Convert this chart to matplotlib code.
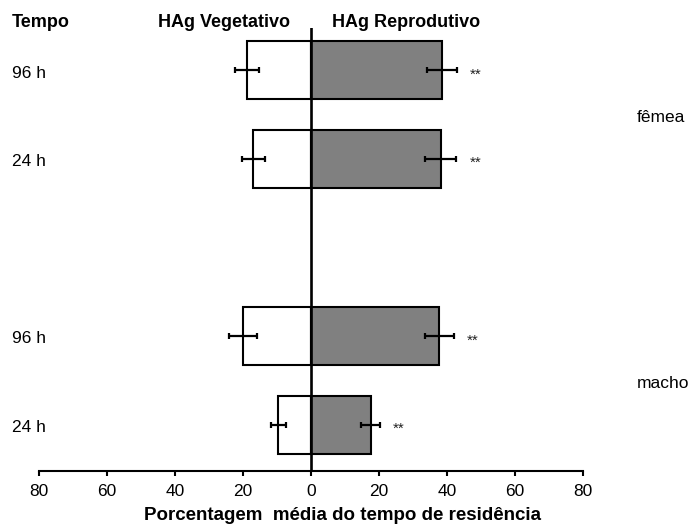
#!/usr/bin/env python3

import matplotlib
matplotlib.use("Agg")
import matplotlib.pyplot as plt
import matplotlib.transforms as mtransforms
import numpy as np

plt.rcParams["font.family"] = ["Liberation Sans", "DejaVu Sans"]

# Bars from bottom to top: macho 24 h, macho 96 h, fêmea 24 h, fêmea 96 h
tempo = ["24 h", "96 h", "24 h", "96 h"]
sexo = ["macho", "macho", "fêmea", "fêmea"]
posicao = [0, 1, 3, 4]

vegetativo = [9.6, 20.1, 17.0, 18.7]
vegetativo_err = [2.3, 4.1, 3.4, 3.5]
reprodutivo = [17.5, 37.7, 38.1, 38.4]
reprodutivo_err = [2.8, 4.2, 4.6, 4.4]
signif = ["**", "**", "**", "**"]

xticks = [-80, -60, -40, -20, 0, 20, 40, 60, 80]

fig = plt.figure(figsize=(6.95, 5.27), dpi=100)
ax = fig.add_axes([0.0557, 0.1068, 0.7836, 0.8401])

y = np.array(posicao, dtype=float)
veg = -np.array(vegetativo)
rep = np.array(reprodutivo)

ax.barh(y, veg, height=0.655, color="white", edgecolor="black", linewidth=1.5, zorder=2)
ax.barh(y, rep, height=0.655, color="#808080", edgecolor="black", linewidth=1.5, zorder=2)

err_kw = dict(fmt="none", ecolor="black", elinewidth=1.6, capsize=2.3, capthick=1.6, zorder=3)
ax.errorbar(veg, y, xerr=vegetativo_err, **err_kw)
ax.errorbar(rep, y, xerr=reprodutivo_err, **err_kw)

# significance marks just right of the reproductive error bars
star = mtransforms.offset_copy(ax.transData, fig=fig, y=-3, units="points")
for yi, v, e, s in zip(y, rep, reprodutivo_err, signif):
    ax.text(v + e + 3.8, yi, s, transform=star, fontsize=11, color="#222222",
            ha="left", va="center")

ax.axvline(0, color="black", linewidth=1.9, zorder=4)

ax.set_xlim(-80, 80)
ax.set_ylim(-0.52, 4.48)
ax.set_xticks(xticks)
ax.set_xticklabels([str(abs(t)) for t in xticks], fontsize=12.5)
ax.tick_params(axis="x", direction="out", length=3.5, width=1.5, pad=6)
ax.yaxis.set_visible(False)
for side in ["left", "right", "top"]:
    ax.spines[side].set_visible(False)
ax.spines["bottom"].set_linewidth(1.5)

ax.set_xlabel("Porcentagem  média do tempo de residência", fontsize=13.5, fontweight="bold")
ax.xaxis.set_label_coords(0.5576, -0.083)

# time labels at the left edge of the figure, group labels at the right
left = mtransforms.blended_transform_factory(fig.transFigure, ax.transData)
left = mtransforms.offset_copy(left, fig=fig, y=-2, units="points")
for yi, t in zip(y, tempo):
    ax.text(0.0168, yi, t, transform=left, fontsize=12.5, ha="left", va="center")

for g in ["fêmea", "macho"]:
    yg = np.mean([p for p, s in zip(posicao, sexo) if s == g])
    ax.text(0.9165, yg, g, transform=left, fontsize=12.5, ha="left", va="center")

fig.text(0.0168, 0.9493, "Tempo", fontsize=13, fontweight="bold", ha="left", va="baseline")
fig.text(224 / 695, 0.9493, "HAg Vegetativo", fontsize=13, fontweight="bold", ha="center", va="baseline")
fig.text(406 / 695, 0.9493, "HAg Reprodutivo", fontsize=13, fontweight="bold", ha="center", va="baseline")

fig.savefig("out.png", dpi=100)
plt.close(fig)
